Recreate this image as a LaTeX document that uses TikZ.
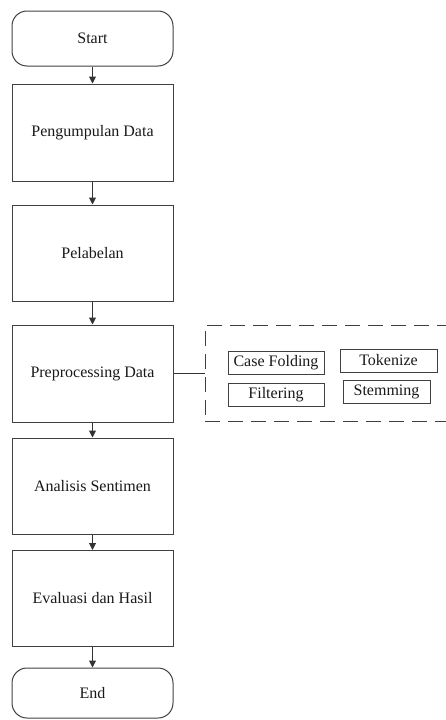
\documentclass[tikz,border=0pt]{standalone}
\usepackage{fontspec}
\setmainfont{Liberation Serif}
\usetikzlibrary{arrows.meta}
\begin{document}
\begin{tikzpicture}[x=1pt,y=-1pt,
  every node/.style={font=\fontsize{16}{18}\selectfont, text=black!90, inner sep=0pt},
  stepbox/.style={draw=black!75, line width=1pt, minimum width=161pt},
  termbox/.style={stepbox, rounded corners=15pt},
  subbox/.style={draw=black!75, line width=0.9pt, minimum height=23pt},
  flow/.style={draw=black!80, line width=1pt, -{Triangle[length=7pt,width=7pt]}}]
\useasboundingbox (0,0) rectangle (446,720);
\node[termbox, minimum height=55pt] (start) at (92.5,38.5) {Start};
\node[stepbox, minimum height=97pt] (p1) at (92.5,132.5) {Pengumpulan Data};
\node[stepbox, minimum height=96pt] (p2) at (92.5,253) {Pelabelan};
\node[stepbox, minimum height=97pt] (p3) at (92.5,373.5) {Preprocessing Data};
\node[stepbox, minimum height=96pt] (p4) at (92.5,486) {Analisis Sentimen};
\node[stepbox, minimum height=96pt] (p5) at (92.5,598.5) {Evaluasi dan Hasil};
\node[termbox, minimum height=50pt] (end) at (92.5,693) {End};
\node[draw=black!75, line width=1pt, dash pattern=on 15pt off 8pt, minimum width=248pt, minimum height=96pt] (group) at (329,373) {};
\node[subbox, minimum width=96pt] (cf) at (276,362.5) {Case Folding};
\node[subbox, minimum width=97pt] (tok) at (388.5,360.5) {Tokenize};
\node[subbox, minimum width=96pt] (fil) at (276,394.5) {Filtering};
\node[subbox, minimum width=87pt] (stem) at (386.5,392) {Stemming};
\draw[flow] (start) -- (p1);
\draw[flow] (p1) -- (p2);
\draw[flow] (p2) -- (p3);
\draw[flow] (p3) -- (p4);
\draw[flow] (p4) -- (p5);
\draw[flow] (p5) -- (end);
\draw[draw=black!80, line width=1pt] (p3.east) -- (p3.east -| group.west);
\end{tikzpicture}
\end{document}
